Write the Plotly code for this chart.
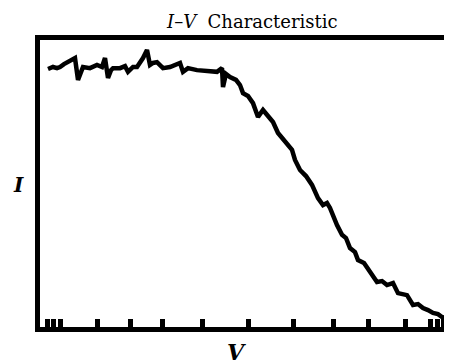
import plotly.graph_objects as go

V = [0.2, 0.325, 0.425, 0.5, 0.6, 0.675, 0.775, 0.875, 0.95, 1.025, 1.075, 1.25, 1.425, 1.55,
     1.625, 1.7, 1.775, 1.825, 2.0, 2.125, 2.2, 2.325, 2.425, 2.575, 2.675, 2.75, 2.825, 2.925,
     3.075, 3.25, 3.5, 3.575, 3.7, 3.925, 4.175, 4.425, 4.55, 4.575, 4.65, 4.75, 4.9, 5.0,
     5.075, 5.2, 5.325, 5.45, 5.575, 5.7, 5.825, 5.95, 6.125, 6.3, 6.375, 6.5, 6.65, 6.8, 6.95,
     7.075, 7.175, 7.25, 7.425, 7.55, 7.65, 7.75, 7.875, 7.95, 8.1, 8.25, 8.425, 8.55, 8.675,
     8.825, 8.95, 9.175, 9.325, 9.45, 9.575, 9.7, 9.825, 9.95, 10.05, 10.15, 10.25]
I = [8.99, 9.06, 9.02, 9.06, 9.16, 9.23, 9.30, 9.37, 8.61, 8.95, 9.06, 9.02, 9.13, 9.06,
     9.37, 8.68, 8.95, 9.02, 9.02, 9.09, 8.89, 9.06, 9.06, 9.37, 9.65, 9.13, 9.20, 9.23,
     9.02, 9.06, 9.20, 8.89, 9.02, 8.95, 8.92, 8.89, 9.02, 8.36, 8.82, 8.71, 8.61, 8.43,
     8.15, 8.05, 7.80, 7.32, 7.56, 7.35, 7.14, 6.76, 6.45, 6.17, 5.82, 5.47, 5.26, 4.95, 4.49,
     4.25, 4.32, 4.15, 3.55, 3.21, 3.10, 2.75, 2.61, 2.33, 2.23, 1.95, 1.57, 1.60, 1.46,
     1.53, 1.18, 1.11, 0.77, 0.80, 0.66, 0.59, 0.49, 0.45, 0.35, 0.31, 0.24]

# Rug-like tick marks along the V axis
V_ticks = [0.175, 0.325, 0.5, 1.425, 2.25, 3.05, 4.05, 5.2, 6.325, 7.325, 8.2, 9.125,
           9.75, 9.925, 10.075]

title_text = "<i>I</i>–<i>V</i>  Characteristic"
x_label = "<b><i>V</i></b>"
y_label = "<b><i>I</i></b>"

fig = go.Figure()
fig.add_trace(go.Scatter(x=V, y=I, mode="lines",
                         line=dict(color="black", width=4.5, shape="linear"),
                         hoverinfo="skip", showlegend=False))

# the page body keeps its default 8px margin, so the figure is 8px smaller on each axis
fig.update_layout(
    width=444, height=356,
    margin=dict(l=32, r=0, t=32, b=37, pad=0),
    paper_bgcolor="white", plot_bgcolor="white",
    font=dict(family="DejaVu Serif", color="black"),
    xaxis=dict(range=[0, 10.3], showgrid=False, zeroline=False,
               showline=True, linecolor="black", linewidth=5, mirror=True,
               tickmode="array", tickvals=V_ticks, showticklabels=False,
               ticks="inside", ticklen=8, tickwidth=5, tickcolor="black"),
    yaxis=dict(range=[0, 10], showgrid=False, zeroline=False,
               showline=True, linecolor="black", linewidth=5, mirror=False,
               showticklabels=False, ticks=""),
    annotations=[
        dict(text=title_text, xref="paper", yref="paper", x=0.515, y=1.063,
             showarrow=False, font=dict(size=18, family="DejaVu Serif"),
             xanchor="center", yanchor="middle"),
        dict(text=y_label, xref="paper", yref="paper", x=-0.053, y=0.495,
             showarrow=False, font=dict(size=20, family="DejaVu Serif"),
             xanchor="center", yanchor="middle"),
        dict(text=x_label, xref="paper", yref="paper", x=0.476, y=-0.087,
             showarrow=False, font=dict(size=22, family="DejaVu Serif"),
             xanchor="center", yanchor="middle"),
    ],
)

fig.write_html("out.html")
